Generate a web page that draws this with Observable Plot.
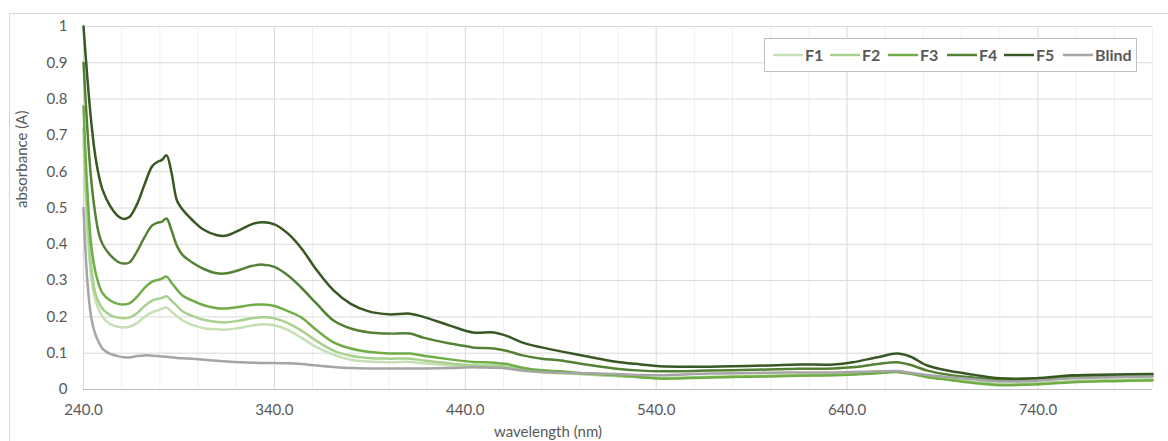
<!DOCTYPE html>
<html>
<head>
<meta charset="utf-8">
<script src="https://cdn.jsdelivr.net/npm/d3@7"></script>
<script src="https://cdn.jsdelivr.net/npm/@observablehq/plot@0.6"></script>
<style>
  html, body { margin: 0; padding: 0; background: #fff; }
  #wrap { position: relative; width: 1168px; height: 441px; overflow: hidden; font-family: Lato, "Open Sans", sans-serif; }
  #border { position: absolute; left: 9px; top: 13px; width: 1170px; height: 440px; border: 1px solid #d9d9d9; box-sizing: border-box; pointer-events: none; }
  #legend { position: absolute; left: 764px; top: 38px; width: 373px; height: 34px; box-sizing: border-box; border: 1px solid #bfbfbf; background: #fff; }
</style>
</head>
<body>
<div id="wrap"><div id="border"></div></div>
<script>
// ---- data ----
const wavelength = [240,242,244,246,248,250,254,258,261,264,268,272,276,279,281,283.5,286,289,292,297,303,310,315,322,328,334,340,347,354,362,371,380,389,400,411,418,432,444,455,462,470,480,490,504,518,532,542,568,598,615,633,643,656,666,673,682,694,706,720,739,758,780,800];
const F1 = [0.68,0.44,0.31,0.25,0.22,0.20,0.18,0.173,0.171,0.173,0.183,0.200,0.213,0.218,0.222,0.226,0.215,0.202,0.190,0.178,0.169,0.166,0.165,0.170,0.176,0.180,0.177,0.164,0.143,0.117,0.096,0.082,0.077,0.075,0.076,0.072,0.066,0.062,0.061,0.059,0.052,0.047,0.045,0.041,0.037,0.034,0.032,0.035,0.038,0.040,0.041,0.043,0.047,0.050,0.045,0.036,0.028,0.021,0.015,0.017,0.023,0.026,0.028];
const F2 = [0.72,0.48,0.34,0.27,0.24,0.222,0.205,0.198,0.196,0.198,0.210,0.230,0.245,0.250,0.252,0.257,0.245,0.230,0.215,0.203,0.192,0.186,0.185,0.190,0.196,0.199,0.196,0.183,0.163,0.134,0.107,0.093,0.087,0.085,0.085,0.080,0.072,0.067,0.066,0.063,0.055,0.049,0.046,0.042,0.038,0.034,0.031,0.034,0.037,0.039,0.040,0.042,0.046,0.049,0.044,0.035,0.027,0.020,0.014,0.016,0.022,0.025,0.027];
const F3 = [0.78,0.55,0.40,0.33,0.29,0.265,0.245,0.236,0.234,0.237,0.255,0.280,0.297,0.302,0.305,0.311,0.295,0.275,0.258,0.245,0.232,0.224,0.223,0.228,0.233,0.234,0.230,0.216,0.199,0.164,0.130,0.113,0.104,0.099,0.099,0.093,0.083,0.076,0.074,0.070,0.060,0.053,0.050,0.044,0.040,0.034,0.030,0.033,0.036,0.038,0.039,0.041,0.045,0.048,0.043,0.034,0.026,0.018,0.012,0.014,0.020,0.023,0.025];
const F4 = [0.90,0.72,0.58,0.49,0.43,0.40,0.37,0.352,0.347,0.350,0.380,0.420,0.452,0.460,0.462,0.471,0.440,0.395,0.370,0.350,0.332,0.320,0.320,0.330,0.340,0.344,0.338,0.315,0.281,0.237,0.190,0.168,0.158,0.154,0.154,0.143,0.127,0.116,0.113,0.106,0.094,0.085,0.080,0.068,0.058,0.052,0.050,0.052,0.055,0.057,0.058,0.061,0.070,0.075,0.068,0.052,0.040,0.033,0.026,0.027,0.034,0.036,0.038];
const F5 = [1.00,0.86,0.74,0.65,0.59,0.55,0.505,0.478,0.470,0.475,0.510,0.565,0.615,0.628,0.632,0.645,0.600,0.520,0.495,0.467,0.440,0.425,0.424,0.440,0.455,0.461,0.455,0.430,0.390,0.330,0.273,0.236,0.216,0.207,0.209,0.200,0.176,0.157,0.157,0.147,0.129,0.116,0.105,0.091,0.077,0.069,0.064,0.063,0.066,0.069,0.069,0.075,0.089,0.099,0.091,0.066,0.051,0.041,0.031,0.031,0.039,0.041,0.043];
const Blind = [0.50,0.30,0.20,0.155,0.13,0.112,0.098,0.092,0.089,0.088,0.092,0.094,0.093,0.092,0.091,0.090,0.089,0.087,0.086,0.085,0.082,0.079,0.077,0.075,0.074,0.073,0.073,0.072,0.070,0.066,0.062,0.059,0.058,0.058,0.058,0.058,0.059,0.061,0.060,0.058,0.052,0.048,0.046,0.045,0.043,0.040,0.039,0.044,0.046,0.047,0.047,0.048,0.050,0.051,0.046,0.040,0.034,0.028,0.022,0.024,0.031,0.034,0.036];
const seriesNames = ["F1","F2","F3","F4","F5","Blind"];
const seriesColors = ["#c5e0b4","#a9d18e","#70ad47","#548235","#385723","#a5a5a5"];
const xTicks = [240,340,440,540,640,740];
const xMinorTicks = [260,280,300,320,360,380,400,420,460,480,500,520,560,580,600,620,660,680,700,720,760,780,800];
const yTicks = [0,0.1,0.2,0.3,0.4,0.5,0.6,0.7,0.8,0.9,1];

// ---- tidy table ----
const seriesValues = {F1, F2, F3, F4, F5, Blind};
const rows = [];
for (const name of seriesNames) {
  seriesValues[name].forEach((v, i) => rows.push({series: name, wl: wavelength[i], abs: v}));
}

const chart = Plot.plot({
  width: 1168,
  height: 441,
  marginLeft: 83,
  marginRight: 16,
  marginTop: 26,
  marginBottom: 52,
  style: {fontFamily: "Lato, 'Open Sans', sans-serif", fontSize: "15px", color: "#595959", background: "transparent"},
  x: {domain: [240, 800], label: null},
  y: {domain: [0, 1], label: null},
  color: {domain: seriesNames, range: seriesColors},
  marks: [
    Plot.ruleX(xMinorTicks, {stroke: "#f0f0f0", strokeWidth: 1}),
    Plot.ruleX(xTicks, {stroke: "#d9d9d9", strokeWidth: 1}),
    Plot.ruleY(yTicks.filter(d => d > 0), {stroke: "#d9d9d9", strokeWidth: 1}),
    Plot.ruleY([0], {stroke: "#bfbfbf", strokeWidth: 1}),
    Plot.axisX({ticks: xTicks, tickSize: 0, tickPadding: 15, tickFormat: d => d.toFixed(1), fontSize: 15, fill: "#595959"}),
    Plot.axisY({ticks: yTicks, tickSize: 0, tickPadding: 16, tickFormat: d => String(+d.toFixed(1)), fontSize: 15, fill: "#595959"}),
    Plot.line(rows, {x: "wl", y: "abs", z: "series", stroke: "series", strokeWidth: 2.5, curve: "catmull-rom"}),
    Plot.text(["wavelength (nm)"], {frameAnchor: "bottom", dy: 47, dx: -70, text: d => d, fontSize: 15, fill: "#595959"}),
    Plot.text(["absorbance (A)"], {frameAnchor: "left", dx: -61, rotate: -90, text: d => d, fontSize: 15, fill: "#595959"})
  ]
});
chart.style.position = "absolute";
chart.style.left = "0px";
chart.style.top = "0px";
const wrap = document.getElementById("wrap");
wrap.appendChild(chart);

// legend
const legend = document.createElement("div");
legend.id = "legend";
const ns = "http://www.w3.org/2000/svg";
const lsvg = document.createElementNS(ns, "svg");
lsvg.setAttribute("width", 371);
lsvg.setAttribute("height", 32);
const starts = [8, 65, 123, 182, 239, 298];
seriesNames.forEach((name, i) => {
  const ln = document.createElementNS(ns, "line");
  ln.setAttribute("x1", starts[i]); ln.setAttribute("x2", starts[i] + 30);
  ln.setAttribute("y1", 16); ln.setAttribute("y2", 16);
  ln.setAttribute("stroke", seriesColors[i]); ln.setAttribute("stroke-width", 2.5);
  lsvg.appendChild(ln);
  const t = document.createElementNS(ns, "text");
  t.setAttribute("x", starts[i] + 32); t.setAttribute("y", 16);
  t.setAttribute("dy", "0.35em");
  t.setAttribute("font-family", "Lato, 'Open Sans', sans-serif");
  t.setAttribute("font-size", 16);
  t.setAttribute("font-weight", "bold");
  t.setAttribute("fill", "#595959");
  t.textContent = name;
  lsvg.appendChild(t);
});
legend.appendChild(lsvg);
wrap.appendChild(legend);
</script>
</body>
</html>
